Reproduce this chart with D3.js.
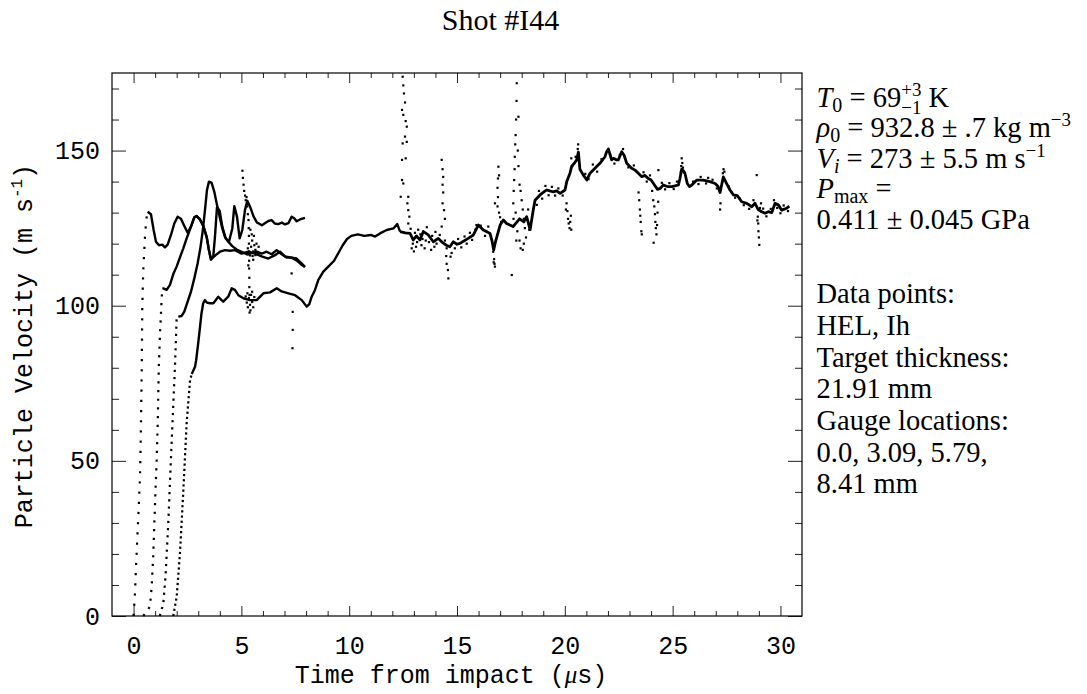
<!DOCTYPE html>
<html><head><meta charset="utf-8">
<script src="https://cdn.jsdelivr.net/npm/d3@7"></script>
<style>body{margin:0;background:#fff} svg{display:block} text{white-space:pre}</style>
</head><body>
<svg id="c" width="1087" height="694"></svg>
<script>
// ---------- data ----------
const xMajorTicks = [0, 5, 10, 15, 20, 25, 30];
const yMajorTicks = [0, 50, 100, 150];
const titleText = "Shot #I44";
const xLabel = "Time from impact (";
const yLabel = "Particle Velocity (m s";

// gauge 0.0 mm
const riseA = [[0,0],[0.065,7.4],[0.14,20],[0.22,32],[0.3,45],[0.34,60],[0.38,80],[0.405,99.7],[0.45,111.5],[0.53,122.2],[0.59,127.8],[0.653,130.3]];
const lineA = [[0.653,130.3],[0.807,129.5],[0.931,124.4],[1.039,120.6],[1.178,119.5],[1.333,119.7],[1.456,118.8],[1.58,119.7],[1.735,122.8],[1.889,126.5],[2.044,128.7],[2.199,128.0],[2.353,125.7],[2.508,123.5],[2.662,125.5],[2.817,128.5],[2.925,128.9],[3.08,127.8],[3.234,125.7],[3.389,122.2],[3.497,117.9],[3.59,114.9],[3.698,116.0],[3.775,122.2],[3.868,131.7],[3.992,130.6],[4.116,125.5],[4.27,121.7],[4.425,120.6],[4.579,124.9],[4.672,132.1],[4.796,128.7],[4.92,121.7],[5.043,124.4],[5.167,130.8],[5.275,133.8],[5.414,131.7],[5.569,128.7],[5.724,126.8],[5.79,126.6],[5.95,125.9],[6.09,126.6],[6.25,127.3],[6.4,127.6],[6.55,126.5],[6.71,126.3],[6.88,126.8],[7.02,126.2],[7.18,126.6],[7.33,128.7],[7.45,128.2],[7.56,127.2],[7.72,127.8],[7.95,128.3]];
// gauge 3.09 mm
const riseB = [[0.45,0],[0.76,3],[0.84,9.4],[0.91,19],[0.99,35.2],[1.07,50],[1.12,62],[1.17,80],[1.22,90],[1.3,101.8],[1.333,105.6]];
const lineB = [[1.333,105.6],[1.379,105.6],[1.533,105.1],[1.688,106.7],[1.842,110.2],[1.997,112.6],[2.152,115.6],[2.307,118.5],[2.461,121.7],[2.539,123.1],[2.662,125.5],[2.817,128.5],[2.925,128.9],[3.08,127.8],[3.234,125.7],[3.389,122.2],[3.497,117.9],[3.59,114.9],[3.806,116.3],[4.007,117.4],[4.24,117.9],[4.47,117.7],[4.703,117.9],[5.01,116.8],[5.32,117.4],[5.63,116.8],[5.94,115.9],[6.25,115.2],[6.56,116.3],[6.79,117.4],[7.02,115.9],[7.33,115.5],[7.56,115.2],[7.8,113.6],[7.95,112.5]];
// gauge 5.79 mm
const riseC = [[1.22,0],[1.38,4],[1.49,13.7],[1.61,29.9],[1.77,56.7],[1.92,80.3],[2.0,96.5],[2.075,96.5]];
const lineC = [[2.075,96.5],[2.23,96.7],[2.353,98.1],[2.508,101.3],[2.662,104.5],[2.817,108.8],[2.972,113.7],[3.096,118.5],[3.204,123.9],[3.312,130.8],[3.405,137.3],[3.497,140.0],[3.621,139.6],[3.745,136.7],[3.868,132.5],[3.992,128.7],[4.116,124.9],[4.24,122.2],[4.394,120.6],[4.579,119.2],[4.78,118.1],[5.01,117.4],[5.25,116.6],[5.48,117.0],[5.72,117.4],[5.94,116.8],[6.17,117.4],[6.4,116.6],[6.64,117.9],[6.87,116.6],[7.1,115.5],[7.33,115.5],[7.56,114.6],[7.77,113.3],[7.95,112.5]];
// gauge 8.41 mm
const riseD = [[1.84,0],[2.0,6.2],[2.15,20],[2.31,40.6],[2.46,62],[2.62,76],[2.7,78]];
const lineD = [[2.7,78],[2.85,80.3],[2.9,82.3],[3.0,88],[3.08,93],[3.15,97.5],[3.23,100.8],[3.31,101.8],[3.4,101],[3.54,100.8],[3.7,100.8],[3.93,102.9],[4.08,101.8],[4.16,101.3],[4.39,102.9],[4.55,105.6],[4.7,105.1],[4.86,103.4],[5.09,102.4],[5.4,101.8],[5.71,101.8],[6.02,104],[6.33,104.3],[6.64,105.6],[6.87,104.6],[7.18,104],[7.49,103.4],[7.8,101.8],[8.03,99.7],[8.15,100.5],[8.26,102.9],[8.41,105],[8.57,108.3],[8.8,111],[9.03,112.6],[9.3,114.5],[9.5,117],[9.7,119.5],[9.9,121.5],[10.1,122.5],[10.4,123],[10.7,122.5],[11.0,122.8],[11.2,122.3],[11.43,123.3],[11.74,124.4],[12.05,124.9],[12.23,126.3],[12.36,123.9]];
const lateD = [[12.36,123.9],[12.6,123.5],[12.82,123.3],[12.97,121.2],[13.12,122.5],[13.28,121.2],[13.44,123.9],[13.67,122.8],[13.9,120.6],[14.13,121.7],[14.3,120.5],[14.5,119.5],[14.67,119],[14.83,120.6],[15.0,119.8],[15.14,120.1],[15.3,120.8],[15.52,121.7],[15.76,122.8],[15.99,126],[16.22,124.4],[16.4,123.8],[16.53,123.3],[16.62,121],[16.7,118],[16.8,121],[17.0,126],[17.15,127.6],[17.3,126.5],[17.45,126],[17.6,125.5],[17.9,128],[18.1,127],[18.23,128.7],[18.39,124.5],[18.54,131],[18.62,134],[18.85,135.7],[19.0,136.5],[19.16,137.3],[19.3,137],[19.47,136.7],[19.62,137],[19.78,136.2],[20.01,137.3],[20.09,140],[20.24,142.7],[20.32,145],[20.45,146],[20.55,147],[20.63,149.5],[20.7,144],[20.86,142.1],[21.02,140.5],[21.17,142.7],[21.4,144.3],[21.63,145.9],[21.86,148],[21.94,149.6],[22.02,150.5],[22.17,147],[22.25,147.5],[22.4,147],[22.48,147],[22.64,149.6],[22.75,148.5],[22.87,145.9],[23.1,144.3],[23.26,143.7],[23.41,142.7],[23.57,141.6],[23.72,142],[23.87,141],[24.0,140.5],[24.15,139],[24.3,137.5],[24.42,137.8],[24.57,138.9],[24.75,138.4],[24.96,138.4],[25.1,138.6],[25.27,138.9],[25.34,141],[25.42,144],[25.5,143.5],[25.57,142.7],[25.68,139.4],[25.78,138.4],[25.89,138.9],[26.12,140.5],[26.42,140.5],[26.73,140],[26.97,139.4],[27.1,138.5],[27.2,136.5],[27.35,141.5],[27.5,139.4],[27.66,137.3],[27.82,135.7],[28.0,135.5],[28.2,133.5],[28.44,133],[28.67,131.9],[28.82,133],[28.97,131],[29.13,130.3],[29.29,129.8],[29.44,130.3],[29.6,130],[29.75,133],[29.9,132.5],[30.06,130.8],[30.29,131.4],[30.41,132.1]];

// scattered samples (noise spikes and jitter around the late trace)
const scatterEarly = [[5.05,143.5],[5.07,141.2],[5.1,139],[5.13,137],[5.17,135.5],[5.2,134],[5.24,135],[5.27,132],[5.3,129.5],[5.33,127.6],[5.34,125],[5.35,122.5],[5.35,120],[5.36,117.5],[5.36,114.5],[5.36,112],[5.37,109],[5.37,106],[5.38,103.5],[5.32,113],[5.3,116.5],
  [5.45,119],[5.5,121],[5.55,117.5],[5.6,119.5],[5.52,116],[5.65,118],[5.7,120],[5.58,122.5],[5.75,117],[5.8,119],[5.48,123],[5.42,124.5],[5.3,118.5],[5.4,116.2],[5.55,114.8],[5.65,116.3],
  [5.2,103],[5.25,101],[5.3,99.5],[5.35,102.5],[5.4,100.3],[5.45,103.5],[5.5,101.2],[5.55,99.5],[5.6,102.8],[5.28,104],[5.42,98.5],[5.5,104.5],[5.38,97.8],
  [7.33,110.4],[7.38,98],[7.38,92.2],[7.37,86.3]];
const scatterLate = [[12.48,173.8],[12.51,171],[12.54,168.4],[12.59,165.5],[12.45,163.1],[12.51,161.5],[12.62,159.5],[12.67,157.7],[12.59,154.5],[12.48,152.3],[12.67,152.8],[12.45,147],[12.62,147.5],[12.45,140.5],[12.51,139.4],[12.39,135.1],[12.74,135.1],[12.7,133],[12.74,130.8],[12.79,128.7],[12.74,126.5],
  [12.9,118.5],[13.0,117.5],[13.1,119],[13.5,118.5],[13.8,118],[12.85,124.8],[13.6,125.3],[14.0,123.8],[13.2,124.5],[13.35,119.5],
  [12.95,120],[13.05,123.5],[13.15,120.5],[13.3,123],[13.4,121.5],[13.55,121],[13.7,120.5],[13.85,122.5],[13.95,119],[14.05,120],[14.2,122.8],
  [14.29,147],[14.33,144],[14.36,141.5],[14.33,139],[14.36,136.5],[14.33,133],[14.4,130.8],[14.44,128],[14.29,125.5],[14.44,121],[14.52,118.5],[14.5,116],[14.52,113.5],[14.58,111.5],[14.6,108.8],[14.7,115.8],[14.75,117],
  [14.9,118.5],[15.05,121.5],[15.2,118.8],[15.35,122.3],[15.45,120],[15.6,123.5],[15.7,121.2],[15.85,124.5],[16.3,122.5],[16.45,125.5],
  [15.9,126],[16.1,125.8],[16.68,117.4],[16.72,115],[16.74,113.5],[16.76,112.6],[16.7,114],[16.76,133],
  [16.88,138],[16.9,141],[16.92,144.8],[16.95,142],[16.9,135],[16.88,132],[16.95,130],[17.0,128.5],[17.05,127],
  [17.54,109.9],[17.61,133],[17.63,137],[17.65,140.5],[17.67,144],[17.68,148],[17.7,152],[17.72,155],[17.74,160],[17.76,166],[17.77,171.7],[17.85,160.9],[17.82,150],[17.85,145],[17.9,139],[17.95,137],[18.0,134],[18.05,131],[18.1,128],[17.8,124],[17.75,121],[17.9,121],[17.95,118.5],[18.05,118],[18.1,120],[18.15,125],[18.2,122],[18.3,131],[18.35,124.5],[17.72,130],[17.62,128],
  [18.7,132.5],[18.8,137],[18.95,134.5],[19.1,138.6],[19.25,135.6],[19.4,138.3],[19.55,135.5],[19.7,137.8],[19.9,135.5],
  [20.05,131],[20.08,133],[20.12,130.5],[20.15,128],[20.18,126.5],[20.22,125],[20.25,127],[20.28,129],[20.3,124.5],
  [20.3,147.5],[20.35,145],[20.5,148],[20.6,150.5],[20.62,152],[20.65,148],
  [20.95,142.5],[21.1,140.8],[21.3,145.5],[21.5,143.2],[21.7,147.2],[22.1,148.8],[22.3,145.8],[22.55,148.6],[22.7,150.5],[22.95,144.6],[23.2,145.2],
  [23.42,136.5],[23.45,134],[23.48,131],[23.5,129],[23.52,127],[23.55,124],[23.57,123],
  [23.65,143],[23.8,140],[23.95,142],
  [24.05,137],[24.1,134],[24.15,132],[24.18,129.5],[24.2,127],[24.22,125],[24.25,123],[24.12,120.3],[24.28,126],[24.3,130],[24.33,133.5],[24.34,143.7],
  [24.5,139.6],[24.65,137.5],[24.85,139.5],[25.05,137.6],[25.2,140],
  [25.38,143],[25.4,145],[25.42,147.5],[25.45,146],[25.48,144.5],[25.52,143],
  [25.95,140],[26.2,139.2],[26.3,141.5],[26.55,139.4],[26.65,141.2],[26.85,140.6],[27.05,137.8],
  [27.3,140],[27.33,142.7],[27.36,144],[27.4,143.2],[27.2,131],[27.22,133],
  [27.6,138.5],[27.75,136.5],[27.9,134.8],[28.1,134.6],[28.3,132.4],[28.55,131.2],[28.75,134],
  [28.9,142.1],[28.93,127.5],[28.95,128.7],[28.97,126.5],[28.98,124],[29.0,122],[29.02,119.6],[29.05,131.5],[29.1,133],
  [29.2,131.3],[29.35,128.8],[29.55,131.2],[29.7,134],[29.85,131.5],[30.0,129.8],[30.15,132.3],[30.35,130.5]];

const annotBottom = ["Data points:", "HEL, Ih", "Target thickness:", "21.91 mm", "Gauge locations:", "0.0, 3.09, 5.79,", "8.41 mm"];

// ---------- drawing ----------
const svg = d3.select('#c');
const x = d3.scaleLinear().domain([-1, 31]).range([112, 802]);
const y = d3.scaleLinear().domain([0, 175]).range([616, 73]);
const xMinor = d3.range(0, 31).filter(v => v % 5 !== 0);
const yMinor = d3.range(10, 175, 10).filter(v => v % 50 !== 0);

const mono = "'Liberation Mono', 'Courier New', monospace";
const serif = "'Liberation Serif', 'Times New Roman', serif";

function styleAxis(g) {
  g.select('.domain').remove();
  g.selectAll('.tick line').attr('stroke', '#222').attr('stroke-width', 1);
  g.selectAll('.tick text').attr('fill', '#000').style('font-family', mono).style('font-size', '25px');
}
svg.append('g').attr('transform', 'translate(0,616)')
  .call(d3.axisBottom(x).tickValues(xMajorTicks).tickSize(-10).tickPadding(20).tickFormat(d3.format('d'))).call(styleAxis);
svg.append('g').attr('transform', 'translate(0,616)')
  .call(d3.axisBottom(x).tickValues(xMinor).tickSize(-5).tickFormat('')).call(styleAxis);
svg.append('g').attr('transform', 'translate(0,73)')
  .call(d3.axisTop(x).tickValues(xMajorTicks).tickSize(-10).tickFormat('')).call(styleAxis);
svg.append('g').attr('transform', 'translate(0,73)')
  .call(d3.axisTop(x).tickValues(xMinor).tickSize(-5).tickFormat('')).call(styleAxis);
svg.append('g').attr('transform', 'translate(112,0)')
  .call(d3.axisLeft(y).tickValues(yMajorTicks).tickSize(-14).tickPadding(12).tickFormat(d3.format('d'))).call(styleAxis);
svg.append('g').attr('transform', 'translate(112,0)')
  .call(d3.axisLeft(y).tickValues(yMinor).tickSize(-7).tickFormat('')).call(styleAxis);
svg.append('g').attr('transform', 'translate(802,0)')
  .call(d3.axisRight(y).tickValues(yMajorTicks).tickSize(-14).tickFormat('')).call(styleAxis);
svg.append('g').attr('transform', 'translate(802,0)')
  .call(d3.axisRight(y).tickValues(yMinor).tickSize(-7).tickFormat('')).call(styleAxis);

svg.append('rect').attr('x', x(-1)).attr('y', y(175)).attr('width', x(31) - x(-1)).attr('height', y(0) - y(175))
  .attr('fill', 'none').attr('stroke', '#000').attr('stroke-width', 1.2);

const line = d3.line().x(d => x(d[0])).y(d => y(d[1]));
const plot = svg.append('g');
const rises = [[riseA, '2.2 8'], [riseB, '2.2 6.5'], [riseC, '2.2 5'], [riseD, '2.2 3']];
rises.forEach(([r, dash]) => plot.append('path').attr('d', line(r)).attr('fill', 'none')
  .attr('stroke', '#000').attr('stroke-width', 2.2).attr('stroke-dasharray', dash));
[lineA, lineB, lineC, lineD].forEach(l => plot.append('path').attr('d', line(l)).attr('fill', 'none')
  .attr('stroke', '#000').attr('stroke-width', 2.4).attr('stroke-linejoin', 'round'));
plot.append('path').attr('d', line(lateD)).attr('fill', 'none')
  .attr('stroke', '#000').attr('stroke-width', 2.8).attr('stroke-linejoin', 'round');
plot.selectAll('rect.pt').data(scatterEarly.concat(scatterLate)).join('rect').attr('class', 'pt')
  .attr('x', d => x(d[0]) - 1.1).attr('y', d => y(d[1]) - 1.1).attr('width', 2.2).attr('height', 2.2).attr('fill', '#000');

// title
svg.append('text').attr('x', 500.5).attr('y', 29.5).attr('text-anchor', 'middle')
  .style('font-family', serif).style('font-size', '30px').text(titleText);

// axis labels
const xl = svg.append('text').attr('x', 451).attr('y', 683).attr('text-anchor', 'middle')
  .style('font-family', mono).style('font-size', '25px');
xl.append('tspan').text(xLabel);
xl.append('tspan').style('font-family', serif).style('font-style', 'italic').text('μ');
xl.append('tspan').text('s)');

const yl = svg.append('text').attr('transform', 'translate(32,346) rotate(-90)').attr('text-anchor', 'middle')
  .style('font-family', mono).style('font-size', '25px');
yl.append('tspan').text(yLabel);
yl.append('tspan').attr('dy', -10).style('font-size', '16px').text('-1');
yl.append('tspan').attr('dy', 10).text(')');

// annotations: one text element per line, scripts as tspans
const ann = svg.append('g').style('font-family', serif).style('font-size', '28.5px');
function measure(str, size) {
  const t = ann.append('text').style('font-size', size + 'px').text(str);
  const w = t.node().getComputedTextLength();
  t.remove();
  return w;
}
function rich(x0, y0, parts) {
  const t = ann.append('text').attr('x', x0).attr('y', y0);
  let base = 0; // current baseline offset
  parts.forEach(p => {
    const off = p.off || 0;
    const ts = t.append('tspan').attr('dy', off - base).text(p.text);
    base = off;
    if (p.size) ts.style('font-size', p.size + 'px');
    if (p.italic) ts.style('font-style', 'italic');
    if (p.dx) ts.attr('dx', p.dx);
  });
}
const ax = 816.5;
const wPlus3 = measure('+3', 19), wMinus1 = measure('−1', 19);
rich(ax, 106.5, [{text: 'T', italic: true}, {text: '0', size: 20, off: 5}, {text: ' = 69', off: 0},
  {text: '+3', size: 19, off: -11}, {text: '−1', size: 19, off: 7, dx: -wPlus3},
  {text: ' K', off: 0, dx: Math.max(0, wPlus3 - wMinus1)}]);
rich(ax, 137, [{text: 'ρ', italic: true}, {text: '0', size: 20, off: 5}, {text: ' = 932.8 ± .7 kg m', off: 0}, {text: '−3', size: 19, off: -11}]);
rich(ax, 167.5, [{text: 'V', italic: true}, {text: 'i', italic: true, size: 20, off: 5}, {text: ' = 273 ± 5.5 m s', off: 0}, {text: '−1', size: 19, off: -11}]);
rich(ax, 198, [{text: 'P', italic: true}, {text: 'max', size: 20, off: 5}, {text: ' =', off: 0}]);
rich(ax, 228.5, [{text: '0.411 ± 0.045 GPa'}]);
annotBottom.forEach((s, i) => ann.append('text').attr('x', ax).attr('y', 303.3 + i * 31.67).text(s));
</script>
</body></html>
